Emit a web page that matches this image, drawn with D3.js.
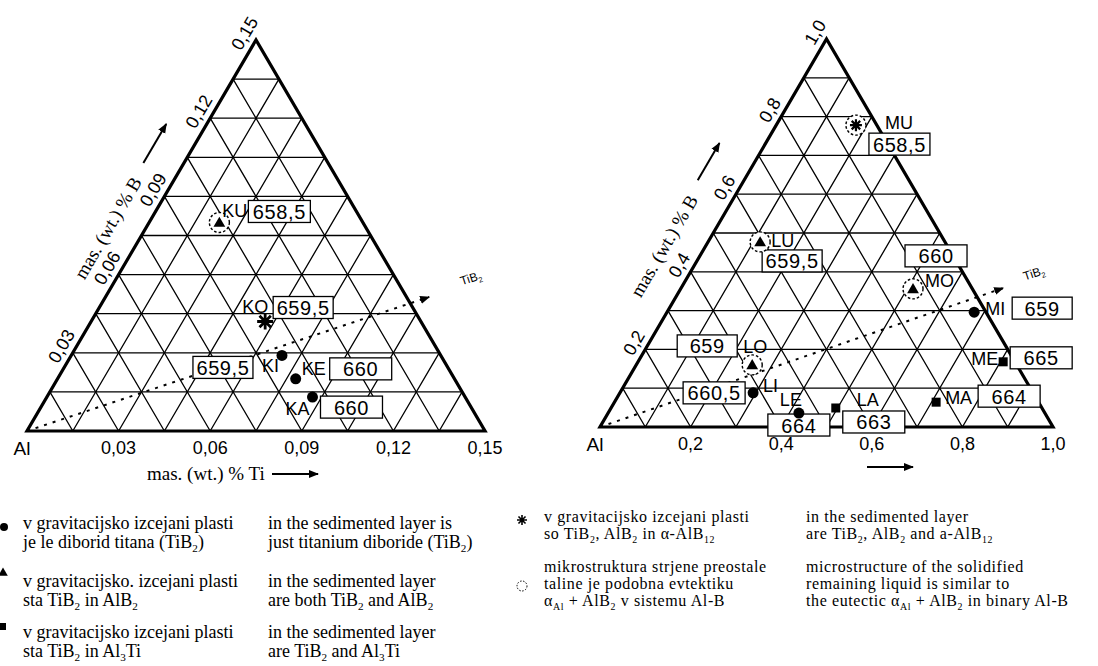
<!DOCTYPE html>
<html>
<head>
<meta charset="utf-8" />
<title>Al-Ti-B ternary sections</title>
<script src="https://cdn.jsdelivr.net/npm/d3@7"></script>
<style>
html, body { margin:0; padding:0; background:#fff; }
svg { display:block; }
.sans { font-family: 'Liberation Sans', Arial, sans-serif; }
.serif { font-family: 'Liberation Serif', 'Times New Roman', serif; }
</style>
</head>
<body>
<script>

//=======================================
// data
//=======================================

const leftTicks  = [0.03, 0.06, 0.09, 0.12, 0.15];
const rightTicks = [0.2, 0.4, 0.6, 0.8, 1.0];

// left triangle, 0 - 0.15 wt. fraction
const leftNames    = ['KU', 'KO', 'KI', 'KE', 'KA'];
const leftTi       = [0.023, 0.057, 0.069, 0.078, 0.087];
const leftB        = [0.080, 0.042, 0.029, 0.020, 0.013];
const leftTemp     = ['658,5', '659,5', '659,5', '660', '660'];
const leftPhase    = ['tri', 'star', 'dot', 'dot', 'dot'];
const leftEutectic = [true, false, false, false, false];

// right triangle, 0 - 1.0 wt. fraction
const rightNames    = ['MU', 'LU', 'MO', 'MI', 'LO', 'LI', 'LE', 'LA', 'MA', 'ME'];
const rightTi       = [0.176, 0.115, 0.513, 0.678, 0.256, 0.294, 0.421, 0.496, 0.710, 0.806];
const rightB        = [0.778, 0.477, 0.356, 0.296, 0.160, 0.088, 0.036, 0.049, 0.064, 0.168];
const rightTemp     = ['658,5', '659,5', '660', '659', '659', '660,5', '664', '663', '664', '665'];
const rightPhase    = ['star', 'tri', 'tri', 'dot', 'tri', 'dot', 'dot', 'sq', 'sq', 'sq'];
const rightEutectic = [true, true, true, false, true, false, false, false, false, false];

// end of the Al -> TiB2 direction, [Ti, B]
const leftTiB2  = [0.106, 0.0514];
const rightTiB2 = [0.711, 0.358];

// legend texts
const legendSl = [
	['v gravitacijsko izcejani plasti', 'je le diborid titana (TiB_{2})'],
	['v gravitacijsko. izcejani plasti', 'sta TiB_{2} in AlB_{2}'],
	['v gravitacijsko izcejani plasti', 'sta TiB_{2} in Al_{3}Ti'],
];
const legendEn = [
	['in the sedimented layer is', 'just titanium diboride (TiB_{2})'],
	['in the sedimented layer', 'are both TiB_{2} and AlB_{2}'],
	['in the sedimented layer', 'are TiB_{2} and Al_{3}Ti'],
];
const legendSl2 = [
	['v gravitacijsko izcejani plasti', 'so TiB_{2}, AlB_{2} in α-AlB_{12}'],
	['mikrostruktura strjene preostale', 'taline je podobna evtektiku', 'α_{Al} + AlB_{2} v sistemu Al-B'],
];
const legendEn2 = [
	['in the sedimented layer', 'are TiB_{2}, AlB_{2} and a-AlB_{12}'],
	['microstructure of the solidified', 'remaining liquid is similar to', 'the eutectic α_{Al} + AlB_{2} in binary Al-B'],
];


//=======================================
// layout
//=======================================

// label [dx, dy, anchor] and box [dx, dy, width] relative to the marker
const place = {
	KU:{l:[3,-11,'start'],  b:[29,-22,62]},
	KO:{l:[-23,-15,'start'],b:[8,-25,60]},
	KI:{l:[-20,11,'start'], b:[-89,1,60]},
	KE:{l:[6,-10,'start'],  b:[34,-21,62]},
	KA:{l:[-27,12,'start'], b:[8,-1,62]},

	MU:{l:[29,-2,'start'],  b:[13,8,61]},
	LU:{l:[11,-1,'start'],  b:[2,8,60]},
	MO:{l:[12,-8,'start'],  b:[-8,-44,62]},
	MI:{l:[11,-3,'start'],  b:[38,-15,60]},
	LO:{l:[-9,-18,'start'], b:[-75,-30,60]},
	LI:{l:[10,-7,'start'],  b:[-70,-11,62]},
	LE:{l:[-19,-13,'start'],b:[-31,1,62]},
	LA:{l:[21,-8,'start'],  b:[7,3,62]},
	MA:{l:[9,-4,'start'],   b:[42,-17,62]},
	ME:{l:[-5,-3,'end'],    b:[7,-15,62]},
};

const comma = d3.formatLocale({decimal:',', thousands:'.', grouping:[3], currency:['','']});

let svg = d3.select('body').append('svg')
	.attr('width', 1098).attr('height', 666)
	.attr('viewBox', '0 0 1098 666');

svg.append('defs').append('marker')
	.attr('id','arrow')
	.attr('viewBox','0 0 10 10')
	.attr('refX',9).attr('refY',5)
	.attr('markerWidth',10).attr('markerHeight',10)
	.attr('markerUnits','userSpaceOnUse')
	.attr('orient','auto')
	.append('path').attr('d','M0,1 L10,5 L0,9 Z').attr('fill','#000');


// rich text with _{sub}
function rich(sel, str, fs)	{
	let parts = str.split(/_\{([^}]*)\}/);
	parts.forEach((p,i)=>{
		if (!p) return;
		if (i%2) {
			sel.append('tspan').attr('font-size', fs*0.62).attr('baseline-shift', -fs*0.22).text(p);
		} else {
			sel.append('tspan').text(p);
		}
	});
}

function asterisk(r)	{
	return [0,45,90,135].map(a=>{
		let c = Math.cos(a*Math.PI/180)*r, s = Math.sin(a*Math.PI/180)*r;
		return `M${-c},${-s}L${c},${s}`;
	}).join('');
}


//=======================================
// ternary
//=======================================

function ternary(sel, cfg)	{

	let sx = d3.scaleLinear().domain([0, cfg.max]).range([0, cfg.w]),
			sy = d3.scaleLinear().domain([0, cfg.max]).range([0, cfg.h]),
			pos = (ti, b) => [cfg.x0 + sx(ti) + sx(b)/2, cfg.y0 - sy(b)],
			fmt = comma.format(cfg.fmt),
			ang = Math.atan2(-cfg.h, cfg.w/2) * 180/Math.PI,
			side = Math.hypot(cfg.w/2, cfg.h),
			nx = -cfg.h/side, ny = -(cfg.w/2)/side,
			grid = d3.range(1,10).map(i=>cfg.max*i/10),
			M = cfg.max;

	let g = sel.append('g');

	// grid
	g.append('g')
		.attr('stroke','#000').attr('stroke-width',1.3).attr('fill','none')
		.selectAll('path').data(grid)
			.join('path')
				.attr('d', v => d3.line()([pos(0,v), pos(M-v,v)])
											+ d3.line()([pos(v,0), pos(v,M-v)])
											+ d3.line()([pos(v,0), pos(0,v)]));

	// outline
	g.append('path')
		.attr('d', d3.line()([pos(0,0), pos(M,0), pos(0,M)]) + 'Z')
		.attr('fill','none').attr('stroke','#000').attr('stroke-width',3.2)
		.attr('stroke-linejoin','miter');

	// TiB2 direction
	g.append('path')
		.attr('d', d3.line()([pos(0,0), pos(cfg.tib2[0], cfg.tib2[1])]))
		.attr('stroke','#000').attr('stroke-width',2).attr('stroke-dasharray','3 6')
		.attr('fill','none').attr('marker-end','url(#arrow)');

	let tip = pos(cfg.tib2[0], cfg.tib2[1]);
	g.append('text').attr('class','sans')
		.attr('transform', `translate(${tip[0]+cfg.tibLabel[0]},${tip[1]+cfg.tibLabel[1]}) rotate(-18)`)
		.attr('font-size',12).attr('text-anchor','middle')
		.call(t=>rich(t,'TiB_{2}',12));

	// ticks on base
	g.append('g').attr('class','sans').attr('font-size',18).attr('text-anchor','middle')
		.selectAll('text').data(cfg.ticks)
			.join('text')
				.attr('x', d=>pos(d,0)[0]).attr('y', d=>pos(d,0)[1] + 23)
				.text(d=>fmt(d));

	// ticks on the B side
	g.append('g').attr('class','sans').attr('font-size',18).attr('text-anchor','middle')
		.selectAll('text').data(cfg.ticks)
			.join('text')
				.attr('dominant-baseline','central')
				.attr('transform', d=>{
					let p = pos(0,d);
					return `translate(${p[0]+nx*13},${p[1]+ny*13}) rotate(${ang})`;
				})
				.text(d=>fmt(d));

	// Al corner
	g.append('text').attr('class','sans').attr('font-size',19)
		.attr('x', cfg.x0 - 5).attr('y', cfg.y0 + 24).attr('text-anchor','middle')
		.text('Al');

	// B axis title + arrow
	let tp = pos(0, M*cfg.titleT);
	g.append('text').attr('class','serif').attr('font-size',19).attr('text-anchor','middle')
		.attr('dominant-baseline','central')
		.attr('transform', `translate(${tp[0]+nx*cfg.titleOff},${tp[1]+ny*cfg.titleOff}) rotate(${ang})`)
		.text('mas. (wt.) % B');

	let a0 = pos(0, M*cfg.arrowT[0]), a1 = pos(0, M*cfg.arrowT[1]);
	g.append('path')
		.attr('d', d3.line()([[a0[0]+nx*cfg.arrowOff, a0[1]+ny*cfg.arrowOff],[a1[0]+nx*cfg.arrowOff, a1[1]+ny*cfg.arrowOff]]))
		.attr('stroke','#000').attr('stroke-width',2).attr('marker-end','url(#arrow)');

	// points
	let pts = cfg.names.map((n,i)=>({name:n, ti:cfg.ti[i], b:cfg.b[i], temp:cfg.temp[i], phase:cfg.phase[i], eut:cfg.eut[i]}));

	let pg = g.append('g').selectAll('g').data(pts)
		.join('g')
			.attr('transform', d=>'translate('+pos(d.ti,d.b)+')');

	// temperature box
	pg.append('rect')
		.attr('x', d=>place[d.name].b[0]).attr('y', d=>place[d.name].b[1])
		.attr('width', d=>place[d.name].b[2]).attr('height', 22)
		.attr('fill','#fff').attr('stroke','#000').attr('stroke-width',1.3);

	pg.append('text').attr('class','sans').attr('font-size',20).attr('letter-spacing',0.6)
		.attr('text-anchor','middle')
		.attr('x', d=>place[d.name].b[0] + place[d.name].b[2]/2)
		.attr('y', d=>place[d.name].b[1] + 18.5)
		.text(d=>d.temp);

	// eutectic ring
	pg.filter(d=>d.eut).append('circle')
		.attr('r',10).attr('fill','#fff').attr('stroke','#000')
		.attr('stroke-width',1.4).attr('stroke-dasharray','2.6 2');

	pg.filter(d=>d.phase=='dot').append('circle').attr('r',5.5).attr('fill','#000');
	pg.filter(d=>d.phase=='sq').append('rect').attr('x',-4.5).attr('y',-4.5).attr('width',9).attr('height',9).attr('fill','#000');
	pg.filter(d=>d.phase=='tri').append('path')
		.attr('d', d3.symbol(d3.symbolTriangle, 60)).attr('fill','#000').attr('transform','translate(0,1)');
	pg.filter(d=>d.phase=='star').append('path')
		.attr('d', d=>asterisk(d.eut ? 6 : 8))
		.attr('stroke','#000').attr('stroke-width', d=>d.eut ? 2.2 : 2.8);

	// names
	pg.append('text').attr('class','sans').attr('font-size',18)
		.attr('x', d=>place[d.name].l[0]).attr('y', d=>place[d.name].l[1])
		.attr('dominant-baseline','central')
		.attr('text-anchor', d=>place[d.name].l[2])
		.text(d=>d.name);

	return pos;
}


ternary(svg, {
	x0:27, y0:431, w:458, h:391, max:0.15, fmt:'.2f', ticks:leftTicks,
	names:leftNames, ti:leftTi, b:leftB, temp:leftTemp, phase:leftPhase, eut:leftEutectic,
	tib2:leftTiB2, tibLabel:[43,-15],
	titleT:0.477, titleOff:33, arrowT:[0.64,0.74], arrowOff:35,
});

ternary(svg, {
	x0:600, y0:427, w:453, h:388, max:1.0, fmt:'.1f', ticks:rightTicks,
	names:rightNames, ti:rightTi, b:rightB, temp:rightTemp, phase:rightPhase, eut:rightEutectic,
	tib2:rightTiB2, tibLabel:[32,-11],
	titleT:0.42, titleOff:36, arrowT:[0.584,0.68], arrowOff:40,
});

// Ti axis titles
svg.append('text').attr('class','serif').attr('font-size',19)
	.attr('x',147).attr('y',480).text('mas. (wt.) % Ti');
svg.append('path').attr('d', d3.line()([[272,474],[318,474]]))
	.attr('stroke','#000').attr('stroke-width',2).attr('marker-end','url(#arrow)');
svg.append('path').attr('d', d3.line()([[867,467],[913,467]]))
	.attr('stroke','#000').attr('stroke-width',2).attr('marker-end','url(#arrow)');


//=======================================
// legend
//=======================================

function block(x, y, lines, fs, lh, ls)	{
	let t = svg.append('text').attr('class','serif').attr('font-size',fs).attr('letter-spacing', ls||0);
	lines.forEach((l,i)=>{
		t.append('tspan').attr('x',x).attr('y', y + i*lh).call(s=>rich(s,l,fs));
	});
}

let rowsL = [529, 587, 638];
legendSl.forEach((d,i)=>block(23, rowsL[i], d, 18, 19));
legendEn.forEach((d,i)=>block(268, rowsL[i], d, 18, 19));

let rowsR = [522, 572];
legendSl2.forEach((d,i)=>block(544, rowsR[i], d, 16, 17, 0.6));
legendEn2.forEach((d,i)=>block(806, rowsR[i], d, 16, 17, 0.6));

// legend symbols
svg.append('circle').attr('cx',4).attr('cy',527).attr('r',4).attr('fill','#000');
svg.append('path').attr('d', d3.symbol(d3.symbolTriangle, 40)).attr('transform','translate(3,573)').attr('fill','#000');
svg.append('rect').attr('x',0).attr('y',623).attr('width',6).attr('height',7).attr('fill','#000');

svg.append('path')
	.attr('transform','translate(522,520)')
	.attr('d', asterisk(5))
	.attr('stroke','#000').attr('stroke-width',1.6);
svg.append('circle').attr('cx',522).attr('cy',586).attr('r',5)
	.attr('fill','none').attr('stroke','#000').attr('stroke-width',1).attr('stroke-dasharray','1.5 1.5');

</script>
</body>
</html>
